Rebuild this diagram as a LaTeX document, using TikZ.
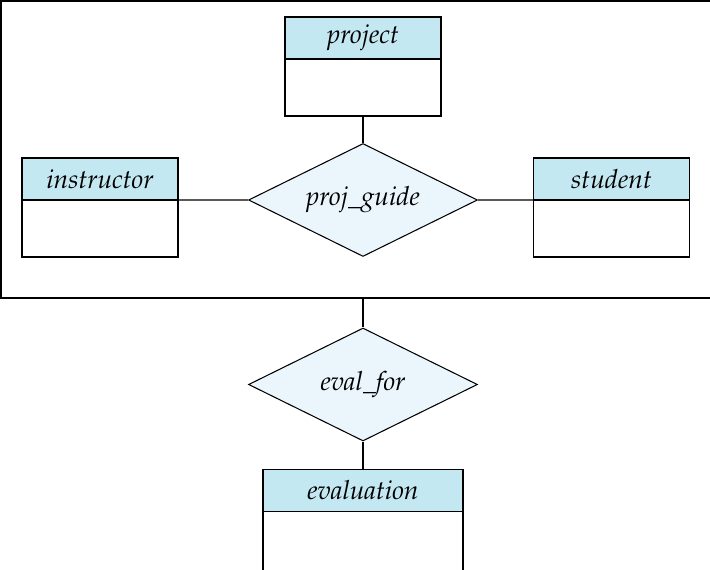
\documentclass[tikz,border=0pt]{standalone}
\usepackage[T1]{fontenc}
\usepackage{mathpazo}
\usetikzlibrary{positioning,shapes.geometric}
\definecolor{headblue}{RGB}{196,232,242}
\definecolor{relblue}{RGB}{234,246,251}
\newcommand{\erfont}{\fontsize{15}{18}\selectfont\itshape}
\begin{document}
\begin{tikzpicture}[x=0.02cm, y=-0.02cm, line width=0.6pt,
        head/.style={draw, fill=headblue, outer sep=0pt, minimum height=0.84cm, font=\erfont},
        body/.style={draw, fill=white, outer sep=0pt, minimum height=1.14cm},
        rel/.style={draw, diamond, aspect=2, fill=relblue, inner sep=0pt, minimum width=4.58cm, minimum height=2.26cm, font=\erfont}]
    \useasboundingbox (0,0) rectangle (710,570); \clip (0,0) rectangle (710,570);
    % aggregate box, runs off the right edge
    \node[draw, line width=0.8pt, outer sep=0pt, minimum width=14.58cm, minimum height=5.94cm] (agg) at (365.5,149.5) {};
    % entity sets
    \node[head, minimum width=3.12cm] (ph) at (363,38) {project}; \node[body, minimum width=3.12cm, below=0pt of ph] (pb) {};
    \node[head, minimum width=3.12cm] (ih) at (100,179) {instructor}; \node[body, minimum width=3.12cm, below=0pt of ih] (ib) {};
    \node[head, minimum width=3.12cm] (sh) at (611.5,179) {student}; \node[body, minimum width=3.12cm, below=0pt of sh] (sb) {};
    \node[head, minimum width=4cm] (eh) at (363,490.5) {evaluation}; \node[body, minimum width=4cm, minimum height=1.26cm, below=0pt of eh] (eb) {};
    % relationship sets
    \node[rel] (pg) at (363,200) {proj\_guide};
    \node[rel] (ef) at (363,384.5) {eval\_for};
    \draw (pb) -- (pg); \draw (ib.north east) -- (pg.west); \draw (pg.east) -- (sb.north west);
    \draw (ef.north |- agg.south) -- (ef.north); \draw (ef) -- (eh);
\end{tikzpicture}
\end{document}
